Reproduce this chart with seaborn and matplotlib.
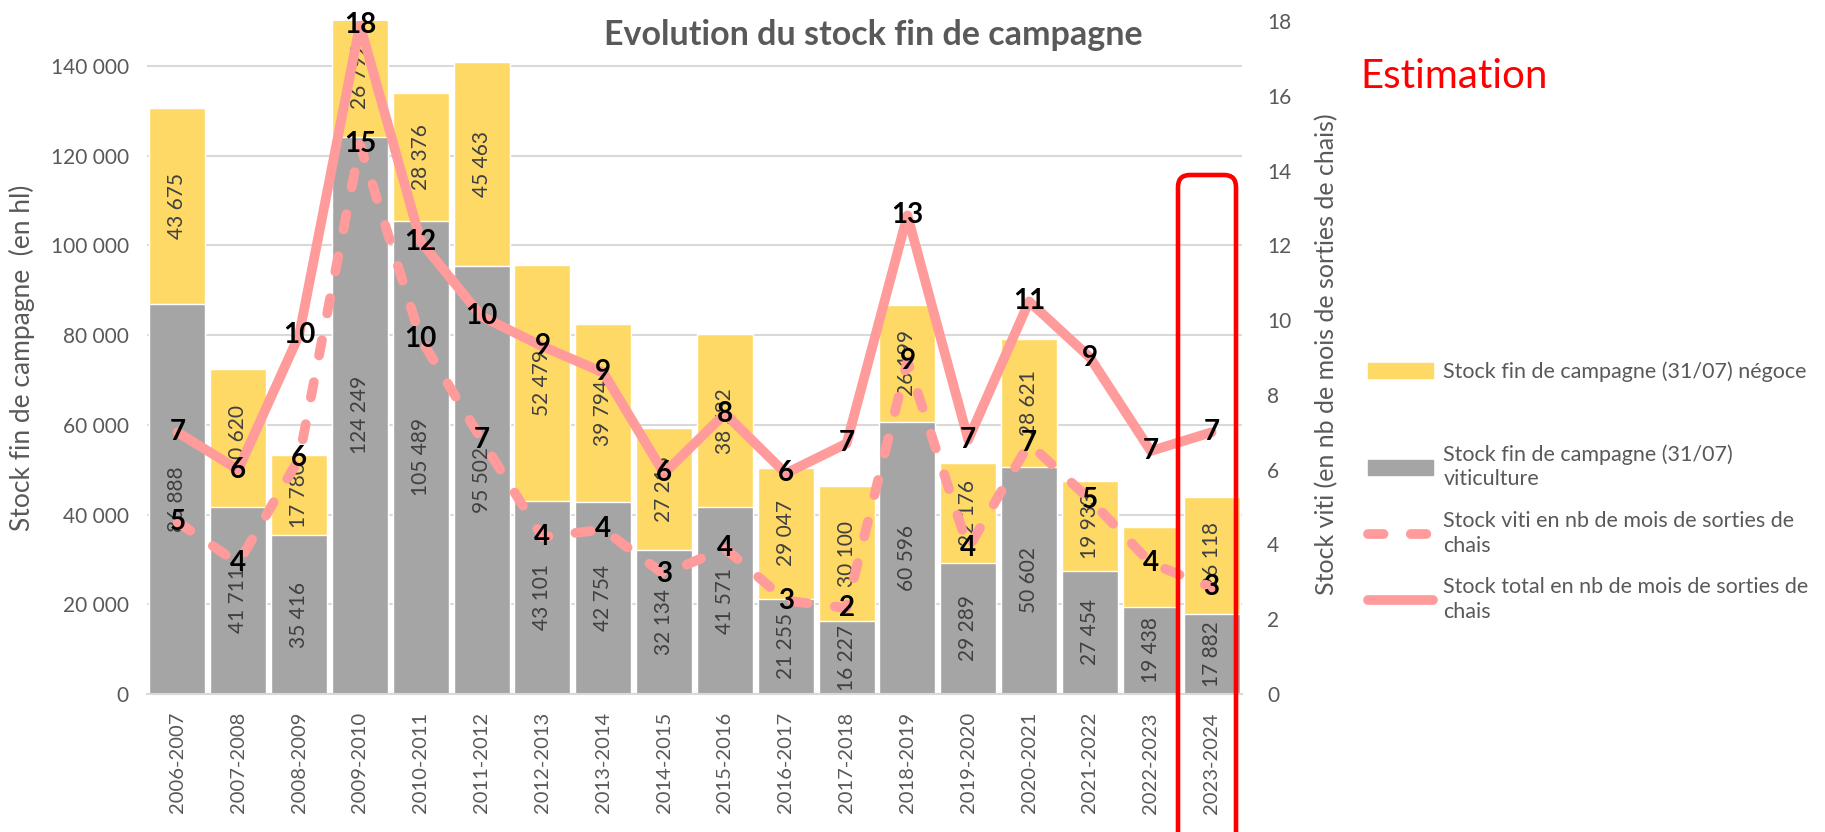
import matplotlib
matplotlib.use("Agg")
import matplotlib.pyplot as plt
from matplotlib.patches import Patch, FancyBboxPatch
from matplotlib.lines import Line2D
from matplotlib.transforms import IdentityTransform
import numpy as np
import pandas as pd
import seaborn as sns

sns.set_style("white")
plt.rcParams['font.family'] = ['Lato', 'DejaVu Sans']

# ---- data ----
campagnes = ["2006-2007", "2007-2008", "2008-2009", "2009-2010", "2010-2011", "2011-2012",
             "2012-2013", "2013-2014", "2014-2015", "2015-2016", "2016-2017", "2017-2018",
             "2018-2019", "2019-2020", "2020-2021", "2021-2022", "2022-2023", "2023-2024"]
stock_viti = [86888, 41711, 35416, 124249, 105489, 95502, 43101, 42754, 32134,
              41571, 21255, 16227, 60596, 29289, 50602, 27454, 19438, 17882]
stock_negoce = [43675, 30620, 17780, 26792, 28376, 45463, 52479, 39794, 27215,
                38582, 29047, 30100, 26199, 22176, 28621, 19933, 17800, 26118]
# négoce label not displayed on the chart for this campaign
negoce_hidden = ["2022-2023"]

mois_total = [7.0, 6.0, 9.6, 17.9, 12.1, 10.1, 9.3, 8.6, 5.9, 7.5, 5.9, 6.7,
              12.8, 6.8, 10.5, 9.0, 6.5, 7.0]
mois_viti = [4.6, 3.5, 6.3, 14.7, 9.5, 6.8, 4.2, 4.4, 3.2, 3.9, 2.5, 2.3,
             8.9, 3.9, 6.7, 5.2, 3.5, 2.85]
labels_total = [7, 6, 10, 18, 12, 10, 9, 9, 6, 8, 6, 7, 13, 7, 11, 9, 7, 7]
labels_viti = [5, 4, 6, 15, 10, 7, 4, 4, 3, 4, 3, 2, 9, 4, 7, 5, 4, 3]

left_ticks = [0, 20000, 40000, 60000, 80000, 100000, 120000, 140000]
right_ticks = [0, 2, 4, 6, 8, 10, 12, 14, 16, 18]

GRAY = "#A5A5A5"
GOLD = "#FFD966"
PINK = "#FF9B9B"
TXT = "#595959"
DASH = (0, (1.6, 2.8))


def fmt(v):
    return "{:,}".format(v).replace(",", " ")


df = pd.DataFrame({"campagne": campagnes, "viti": stock_viti, "negoce": stock_negoce})
df["total"] = df["viti"] + df["negoce"]
x = np.arange(len(campagnes))

fig = plt.figure(figsize=(18.25, 8.32), dpi=100)
ax = fig.add_axes([147 / 1825, 1 - 694 / 832, 1095 / 1825, 673 / 832])

# stacked bars: total in gold, viti in gray on top of it
sns.barplot(data=df, x="campagne", y="total", color=GOLD, saturation=1, width=0.92, ax=ax)
sns.barplot(data=df, x="campagne", y="viti", color=GRAY, saturation=1, width=0.92, ax=ax)

for i, row in df.iterrows():
    ax.text(i, row["viti"] / 2, fmt(row["viti"]), rotation=90, ha="center", va="center",
            fontsize=15, color="#404040")
    if row["campagne"] not in negoce_hidden:
        ax.text(i, row["viti"] + row["negoce"] / 2, fmt(row["negoce"]), rotation=90,
                ha="center", va="center", fontsize=15, color="#404040")

ax.set_xlim(-0.5, len(campagnes) - 0.5)
ax.set_ylim(0, 150000)
ax.set_yticks(left_ticks)
ax.set_yticklabels([fmt(t) for t in left_ticks])
ax.yaxis.grid(True, color="#D9D9D9", lw=1.5)
ax.set_axisbelow(True)
for s in ["top", "left", "right"]:
    ax.spines[s].set_visible(False)
ax.spines["bottom"].set_color("#D9D9D9")
ax.spines["bottom"].set_linewidth(1.5)
ax.tick_params(axis="y", length=0, pad=13, labelsize=15, labelcolor=TXT)
ax.tick_params(axis="x", length=0, pad=13, labelsize=14.5, labelcolor=TXT, rotation=90)
ax.set_xlabel("")
ax.set_ylabel("Stock fin de campagne  (en hl)", fontsize=19, color=TXT)
ax.yaxis.set_label_coords(-0.102, 0.5)

# lines on the right axis
ax2 = ax.twinx()
sns.lineplot(x=x, y=mois_viti, ax=ax2, color=PINK, lw=7, linestyle=DASH,
             dash_capstyle="round")
sns.lineplot(x=x, y=mois_total, ax=ax2, color=PINK, lw=7, solid_capstyle="round",
             solid_joinstyle="round")
for i in x:
    ax2.text(i, mois_viti[i], str(labels_viti[i]), ha="center", va="center",
             fontsize=20, fontweight="bold", color="black", clip_on=False)
    ax2.text(i, mois_total[i], str(labels_total[i]), ha="center", va="center",
             fontsize=20, fontweight="bold", color="black", clip_on=False)
ax2.set_ylim(0, 18)
ax2.set_yticks(right_ticks)
ax2.tick_params(axis="y", length=0, pad=18, labelsize=15, labelcolor=TXT)
for s in ax2.spines.values():
    s.set_visible(False)
ax2.set_ylabel("Stock viti (en nb de mois de sorties de chais)", fontsize=18, color=TXT)
ax2.yaxis.set_label_coords(1.067, 0.505)
ax.set_xlim(-0.5, len(campagnes) - 0.5)

# titles
fig.text(873 / 1825, 1 - 35 / 832, "Evolution du stock fin de campagne", ha="center",
         va="center", fontsize=24.5, fontweight="bold", color=TXT)
fig.text(1360 / 1825, 1 - 76 / 832, "Estimation", ha="left", va="center",
         fontsize=29, color="#FF0000")

# red frame around the estimate
frame = FancyBboxPatch((1178, -30), 58, 832 - 175 + 30,
                       boxstyle="round,pad=0,rounding_size=12",
                       transform=IdentityTransform(), fill=False,
                       edgecolor="#FF0000", lw=3.3)
fig.add_artist(frame)

# legends
leg_kw = dict(frameon=False, borderpad=0, borderaxespad=0, handlelength=3.0,
              handletextpad=0.5, prop={"size": 15.5})
leg1 = fig.legend(handles=[Patch(color=GOLD)],
                  labels=["Stock fin de campagne (31/07) négoce"],
                  loc="center left", bbox_to_anchor=(1368 / 1825, 1 - 372 / 832), **leg_kw)
for t in leg1.get_texts():
    t.set_color(TXT)
leg2 = fig.legend(handles=[Patch(color=GRAY),
                           Line2D([], [], color=PINK, lw=7, linestyle=DASH,
                                  dash_capstyle="round"),
                           Line2D([], [], color=PINK, lw=7, solid_capstyle="round")],
                  labels=["Stock fin de campagne (31/07)\nviticulture",
                          "Stock viti en nb de mois de sorties de\nchais",
                          "Stock total en nb de mois de sorties de\nchais"],
                  loc="center left", bbox_to_anchor=(1368 / 1825, 1 - 533 / 832),
                  labelspacing=1.0, **leg_kw)
for t in leg2.get_texts():
    t.set_color(TXT)
    t.set_linespacing(1.3)

fig.savefig("out.png", dpi=100)
